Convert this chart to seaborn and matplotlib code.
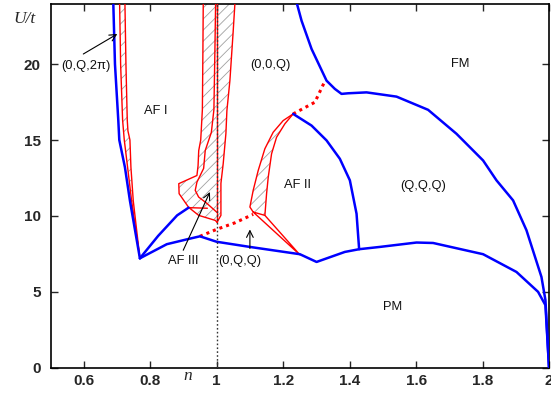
import numpy as np
import matplotlib
matplotlib.use("Agg")
import matplotlib.pyplot as plt
import seaborn as sns

sns.set_style("ticks")
plt.rcParams["font.family"] = ["Liberation Sans", "DejaVu Sans"]
plt.rcParams["hatch.linewidth"] = 0.6
plt.rcParams["hatch.color"] = "#a0a0a0"

# ---- phase boundaries, filling n vs interaction U/t ----
# blue: phase boundaries
blue_left_n = [0.689, 0.694, 0.704, 0.707, 0.724, 0.739, 0.769]
blue_left_u = [24.0, 20.0, 16.3, 15.0, 13.2, 11.0, 7.2]

blue_up_n = [0.769, 0.824, 0.881, 0.9156]
blue_up_u = [7.2, 8.68, 10.03, 10.54]

blue_low_n = [0.769, 0.850, 0.9105, 0.9496, 1.0, 1.100, 1.2504, 1.3006, 1.3857,
              1.4287, 1.491, 1.6014, 1.6513, 1.8017, 1.9021, 1.9671, 1.9893, 2.0]
blue_low_u = [7.2, 8.13, 8.45, 8.65, 8.29, 7.95, 7.47, 6.96, 7.62,
              7.80, 7.95, 8.24, 8.21, 7.47, 6.30, 4.99, 4.11, 0.0]

blue_fm_n = [1.2414, 1.2555, 1.2856, 1.3307, 1.3556, 1.3757, 1.3955, 1.451, 1.5412,
             1.6362, 1.7216, 1.8017, 1.842, 1.8919, 1.9322, 1.9773, 1.9893, 2.0]
blue_fm_u = [24.0, 22.86, 21.0, 18.91, 18.37, 18.04, 18.08, 18.14, 17.86,
             16.99, 15.41, 13.65, 12.34, 11.02, 9.05, 5.97, 4.44, 0.0]

blue_af2_n = [1.2302, 1.2856, 1.3307, 1.3707, 1.4008, 1.4209, 1.4287]
blue_af2_u = [16.72, 15.95, 14.97, 13.76, 12.34, 10.14, 7.80]

# red dotted: first-order lines
dot_upper_n = [1.2302, 1.2955, 1.326]
dot_upper_u = [16.72, 17.49, 18.9]
dot_lower_n = [0.9496, 0.9999, 1.0549, 1.1099]
dot_lower_u = [8.65, 9.11, 9.54, 10.1]

# red: boundaries of phase-separated (coexistence) regions
sep1_a_n = [0.708, 0.711, 0.717, 0.722, 0.732, 0.744, 0.769]
sep1_a_u = [24.0, 20.0, 16.3, 15.0, 13.2, 11.0, 7.2]
sep1_b_n = [0.724, 0.727, 0.731, 0.733, 0.739, 0.742, 0.749, 0.769]
sep1_b_u = [24.0, 20.0, 16.3, 15.6, 15.0, 13.2, 11.0, 7.2]

sep2_a_n = [0.9596, 0.9586, 0.957, 0.952, 0.946, 0.944, 0.9406, 0.886, 0.887,
            0.9156, 0.946, 0.9956, 1.0008]
sep2_a_u = [24.0, 20.9, 17.0, 15.0, 14.3, 13.3, 12.66, 12.12, 11.46,
            10.56, 10.03, 9.70, 9.59]
sep2_b_n = [0.9968, 0.9947, 0.9917, 0.984, 0.9656, 0.9608, 0.9406, 0.9355, 0.9457,
            0.9707, 1.0008]
sep2_b_u = [24.0, 20.9, 17.0, 15.5, 14.31, 13.13, 12.22, 11.68, 11.24,
            10.82, 10.23]
sep2_join_n = [0.9156, 0.972]
sep2_join_u = [10.54, 10.50]

sep3_n = [1.0549, 1.0498, 1.0398, 1.0308, 1.0278, 1.0197, 1.0128, 1.0128, 1.0008]
sep3_u = [24.0, 22.2, 18.91, 16.94, 15.43, 13.45, 12.14, 10.03, 9.57]

sep4_a_n = [1.2302, 1.2001, 1.1700, 1.145, 1.125, 1.1099, 1.100, 1.1099]
sep4_a_u = [16.72, 16.28, 15.51, 14.42, 12.99, 11.68, 10.58, 10.25]
sep4_b_n = [1.2302, 1.2053, 1.1802, 1.1652, 1.1552, 1.1502, 1.1451]
sep4_b_u = [16.72, 16.07, 15.18, 14.09, 12.55, 11.46, 10.03]
sep4_tail_n = [1.1099, 1.2504, 1.1451, 1.1099]
sep4_tail_u = [10.25, 7.43, 10.03, 10.25]

half_filling = 1.0

x_ticks = [0.6, 0.8, 1.0, 1.2, 1.4, 1.6, 1.8, 2.0]
x_labels = ["0.6", "0.8", "1", "1.2", "1.4", "1.6", "1.8", "2"]
y_ticks = [0, 5, 10, 15, 20]
y_labels = ["0", "5", "10", "15", "20"]

phase_labels = ["(0,Q,2\u03c0)", "AF I", "(0,0,Q)", "FM", "AF II", "(Q,Q,Q)",
                "AF III", "(0,Q,Q)", "PM"]
phase_label_n = [0.6053, 0.8158, 1.1632, 1.7316, 1.2429, 1.6203, 0.8985, 1.0699, 1.530]
phase_label_u = [19.9, 16.94, 19.97, 20.01, 12.0, 12.0, 7.0, 7.0, 4.0]

fig = plt.figure(figsize=(5.51, 3.95), dpi=100)
ax = fig.add_axes([50.5 / 551, 27.5 / 395, 498.5 / 551, 364.0 / 395])

BLUE = "#0000ff"
RED = "#ff0000"


def curve(ns, us, **kw):
    sns.lineplot(x=ns, y=us, sort=False, estimator=None, ax=ax, legend=False, **kw)


# hatched coexistence regions
hatch_kw = dict(facecolor="none", edgecolor="#a0a0a0", hatch="///", linewidth=0, zorder=1)
ax.fill(np.r_[sep1_a_n, sep1_b_n[::-1]], np.r_[sep1_a_u, sep1_b_u[::-1]], **hatch_kw)
ax.fill(np.r_[sep2_a_n, [half_filling, half_filling]],
        np.r_[sep2_a_u, [sep2_a_u[-1], 24.0]], **hatch_kw)
ax.fill(np.r_[sep3_n, [half_filling, half_filling]],
        np.r_[sep3_u, [sep3_u[-1], 24.0]], **hatch_kw)
ax.fill(np.r_[sep4_a_n, sep4_b_n[::-1]], np.r_[sep4_a_u, sep4_b_u[::-1]], **hatch_kw)

# red coexistence boundaries
red_kw = dict(color=RED, linewidth=1.0, zorder=3)
for ns, us in [(sep1_a_n, sep1_a_u), (sep1_b_n, sep1_b_u), (sep2_a_n, sep2_a_u),
               (sep2_b_n, sep2_b_u), (sep2_join_n, sep2_join_u), (sep3_n, sep3_u),
               (sep4_a_n, sep4_a_u), (sep4_b_n, sep4_b_u), (sep4_tail_n, sep4_tail_u)]:
    curve(ns, us, **red_kw)
curve([half_filling, half_filling], [sep3_u[-1], 24.0], **red_kw)

# first-order lines
for ns, us in [(dot_upper_n, dot_upper_u), (dot_lower_n, dot_lower_u)]:
    curve(ns, us, color=RED, linewidth=2.2, linestyle=(0, (1, 1.3)), zorder=4)

# blue phase boundaries
for ns, us in [(blue_left_n, blue_left_u), (blue_up_n, blue_up_u),
               (blue_low_n, blue_low_u), (blue_fm_n, blue_fm_u),
               (blue_af2_n, blue_af2_u)]:
    curve(ns, us, color=BLUE, linewidth=1.8, zorder=5)

# half filling
curve([half_filling, half_filling], [0.0, 24.0], color="#333333", linewidth=1.0,
      linestyle=(0, (1.2, 1.6)), zorder=6)

# arrows
arrow_kw = dict(arrowstyle="->", color="black", lw=0.8, shrinkA=0, shrinkB=0,
                mutation_scale=12)
ax.annotate("", xy=(0.701, 21.99), xytext=(0.5987, 20.67), arrowprops=arrow_kw, zorder=7)
ax.annotate("", xy=(0.9797, 11.57), xytext=(0.8994, 7.73), arrowprops=arrow_kw, zorder=7)
ax.annotate("", xy=(1.100, 9.1), xytext=(1.100, 7.85), arrowprops=arrow_kw, zorder=7)

for txt, xn, yu in zip(phase_labels, phase_label_n, phase_label_u):
    ax.text(xn, yu, txt, ha="center", va="center", fontsize=9.3, color="#111111",
            zorder=8)

ax.set_xlim(0.5, 2.0)
ax.set_ylim(0, 24)
ax.set_xticks(x_ticks)
ax.set_xticklabels(x_labels, fontweight="bold", fontsize=11)
ax.set_yticks(y_ticks)
ax.set_yticklabels(y_labels, fontweight="bold", fontsize=11)
ax.tick_params(direction="in", top=True, right=True, length=5, width=1.0)
ax.tick_params(axis="x", pad=5)
ax.tick_params(axis="y", pad=7)
ax.set_xlabel("")
ax.set_ylabel("")
for sp in ax.spines.values():
    sp.set_linewidth(1.2)
    sp.set_color("black")

fig.text(25 / 551, 1 - 19 / 395, "U/t", family=["Liberation Serif", "DejaVu Serif"],
         style="italic", fontsize=12.5, ha="center", va="center")
fig.text(188 / 551, 1 - 376 / 395, "n", family=["Liberation Serif", "DejaVu Serif"],
         style="italic", fontsize=12.5, ha="center", va="center")

fig.savefig("out.png", dpi=100)
